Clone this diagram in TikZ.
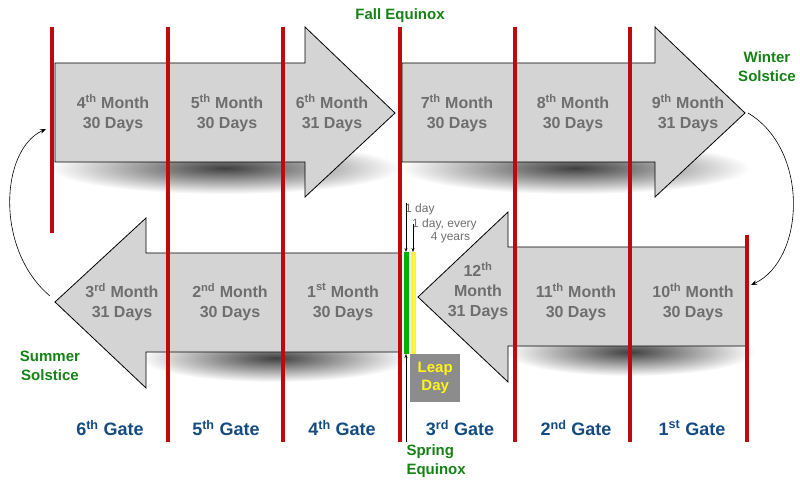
\documentclass[tikz,border=0pt]{standalone}
\usepackage{fontspec}
\setmainfont{Liberation Sans}
\usetikzlibrary{arrows.meta}
\definecolor{redl}{RGB}{190,10,10}
\definecolor{grayt}{RGB}{110,110,110}
\definecolor{bluet}{RGB}{20,75,130}
\definecolor{greent}{RGB}{20,130,20}
\begin{document}
\begin{tikzpicture}[x=1pt,y=-1pt,
  arr/.style={fill=black!17,draw=black,line width=0.8pt},
  shd/.style={inner color=black!75,outer color=white},
  red/.style={draw=redl,line width=4pt},
  mon/.style={font=\bfseries\fontsize{16}{20}\selectfont,text=grayt,align=center},
  gate/.style={font=\bfseries\fontsize{18}{20}\selectfont,text=bluet},
  season/.style={font=\bfseries\fontsize{15}{19}\selectfont,text=greent,align=center},
  note/.style={font=\fontsize{12}{13}\selectfont,text=grayt,align=center,inner sep=0pt}]
\useasboundingbox (0,0) rectangle (800,486);
% shadows
\shade[shd] (225,168) ellipse [x radius=175pt,y radius=26pt];
\shade[shd] (575,168) ellipse [x radius=175pt,y radius=26pt];
\shade[shd] (275,358) ellipse [x radius=135pt,y radius=24pt];
\shade[shd] (630,352) ellipse [x radius=125pt,y radius=24pt];
% arrows
\draw[arr] (55,63)--(305,63)--(305,27)--(395,113)--(305,197)--(305,162)--(55,162)--cycle;
\draw[arr] (402,63)--(655,63)--(655,27)--(745,113)--(655,197)--(655,162)--(402,162)--cycle;
\draw[arr] (400,253)--(146,253)--(146,218)--(55,302)--(146,388)--(146,352)--(400,352)--cycle;
\draw[arr] (747,247)--(508,247)--(508,212)--(418,297)--(508,382)--(508,346)--(747,346)--cycle;
% red lines
\foreach \x/\a/\b in {52/27/233,168/27/442,283/27/442,400/27/442,515/27/442,630/27/442,747/235/442}
  \draw[red] (\x,\a)--(\x,\b);
% month labels
\node[mon] at (113,113) {4\textsuperscript{th} Month\\30 Days};
\node[mon] at (227,113) {5\textsuperscript{th} Month\\30 Days};
\node[mon] at (332,113) {6\textsuperscript{th} Month\\31 Days};
\node[mon] at (457,113) {7\textsuperscript{th} Month\\30 Days};
\node[mon] at (573,113) {8\textsuperscript{th} Month\\30 Days};
\node[mon] at (688,113) {9\textsuperscript{th} Month\\31 Days};
\node[mon] at (122,302) {3\textsuperscript{rd} Month\\31 Days};
\node[mon] at (230,302) {2\textsuperscript{nd} Month\\30 Days};
\node[mon] at (343,302) {1\textsuperscript{st} Month\\30 Days};
\node[mon] at (478,291) {12\textsuperscript{th}\\Month\\31 Days};
\node[mon] at (576,302) {11\textsuperscript{th} Month\\30 Days};
\node[mon] at (693,302) {10\textsuperscript{th} Month\\30 Days};
% gates
\node[gate] at (110,428) {6\textsuperscript{th} Gate};
\node[gate] at (226,428) {5\textsuperscript{th} Gate};
\node[gate] at (342,428) {4\textsuperscript{th} Gate};
\node[gate] at (460,428) {3\textsuperscript{rd} Gate};
\node[gate] at (576,428) {2\textsuperscript{nd} Gate};
\node[gate] at (692,428) {1\textsuperscript{st} Gate};
% seasons
\node[season] (fall) at (400,16) {Fall Equinox};
\node[season] (win) at (767,67) {Winter\\Solstice};
\node[season] (sum) at (50,366) {Summer\\Solstice};
\node[season,align=left,anchor=north west] (spr) at (403,441) {Spring\\Equinox};
% leap bars
\fill[green!70!black] (404,252) rectangle (409,354);
\fill[yellow!80] (411,252) rectangle (416,354);
\node[fill=black!45,minimum width=50pt,minimum height=48pt,inner sep=0pt,anchor=north west,
  font=\bfseries\fontsize{15}{18}\selectfont,text=yellow!90,align=center] (leap) at (410,354) {Leap\\Day};
\node[note,anchor=west] (d1) at (405,209) {1 day};
\node[note,anchor=north west] (d2) at (412,219) {1 day, every\\\hspace*{1em}4 years};
\coordinate (a1) at (406,203); \coordinate (b1) at (406,252);
\coordinate (a2) at (413,224); \coordinate (b2) at (413,252);
\draw[-{Stealth[length=4pt]},line width=0.5pt] (a1)--(b1);
\draw[-{Stealth[length=4pt]},line width=0.5pt] (a2)--(b2);
\coordinate (s1) at (406,442); \coordinate (s2) at (406,354);
\draw[-{Stealth[length=4pt]},line width=0.5pt] (s1)--(s2);
% curved arrows
\coordinate (r1) at (748,113); \coordinate (r2) at (751,285);
\draw[-{Stealth[length=6pt]},line width=0.6pt] (r1) .. controls (810,150) and (805,260) .. (r2);
\coordinate (l1) at (50,296); \coordinate (l2) at (46,129);
\draw[-{Stealth[length=6pt]},line width=0.6pt] (l1) .. controls (-5,250) and (0,150) .. (l2);
\end{tikzpicture}
\end{document}
